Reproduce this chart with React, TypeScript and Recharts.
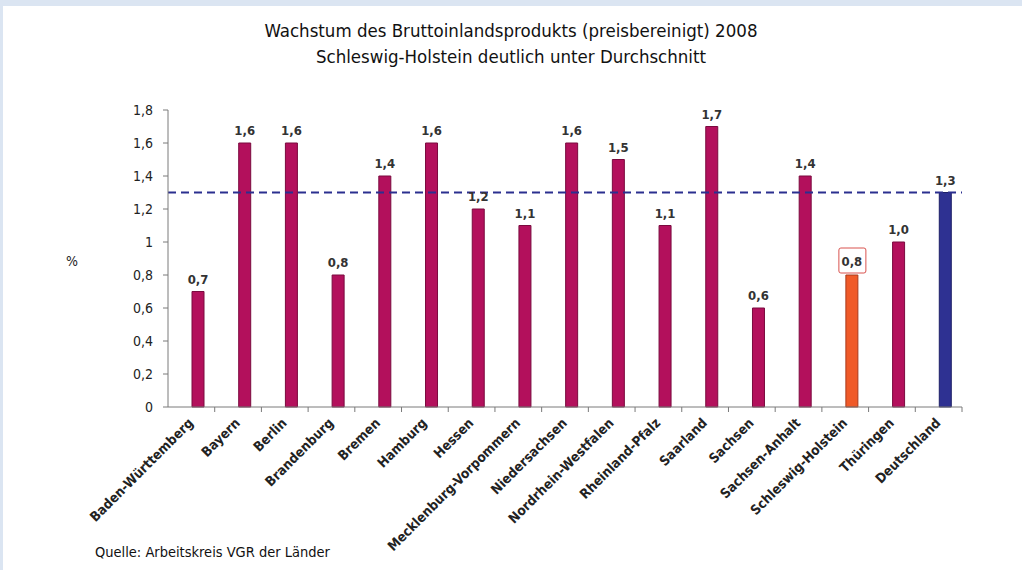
import { BarChart, Bar, XAxis, YAxis, Cell, LabelList, ReferenceLine } from 'recharts';

// ─── Daten ────────────────────────────────────────────────────

const laender = [
    'Baden-Württemberg', 'Bayern', 'Berlin', 'Brandenburg', 'Bremen', 'Hamburg', 'Hessen',
    'Mecklenburg-Vorpommern', 'Niedersachsen', 'Nordrhein-Westfalen', 'Rheinland-Pfalz',
    'Saarland', 'Sachsen', 'Sachsen-Anhalt', 'Schleswig-Holstein', 'Thüringen', 'Deutschland',
];
const wachstum = [0.7, 1.6, 1.6, 0.8, 1.4, 1.6, 1.2, 1.1, 1.6, 1.5, 1.1, 1.7, 0.6, 1.4, 0.8, 1.0, 1.3];
const durchschnitt = 1.3;
const yTicks = [0, 0.2, 0.4, 0.6, 0.8, 1, 1.2, 1.4, 1.6, 1.8];

const HERVORGEHOBEN = 'Schleswig-Holstein';
const GESAMT = 'Deutschland';

const data = laender.map((land, i) => ({ land, wert: wachstum[i] }));

// ─── Stil ─────────────────────────────────────────────────────

const FONT = "'Liberation Sans Narrow', 'DejaVu Sans Condensed', 'Liberation Sans', sans-serif";
const AXIS_COLOR = '#7a7a7a';
const farbe = (land: string) => (land === HERVORGEHOBEN ? '#f05a28' : land === GESAMT ? '#2e3192' : '#b3105c');
const rand = (land: string) => (land === HERVORGEHOBEN ? '#a8381a' : land === GESAMT ? '#1d1f66' : '#7a0a3e');
const komma = (v: number, fix = true) => (fix ? v.toFixed(1) : String(v)).replace('.', ',');

// eslint-disable-next-line @typescript-eslint/no-explicit-any
const LandTick = ({ x, y, payload }: any) => {
    const half = payload?.offset ?? 0;
    return (
        <g>
            <line x1={x + half} x2={x + half} y1={y - 4} y2={y + 1} stroke={AXIS_COLOR} />
            <text
                x={x}
                y={y + 10}
                transform={`rotate(-45, ${x}, ${y + 10})`}
                textAnchor="end"
                dominantBaseline="middle"
                style={{ fontFamily: FONT, fontSize: 13.5, fontWeight: 700, fill: '#222' }}
            >
                {payload.value}
            </text>
        </g>
    );
};

// eslint-disable-next-line @typescript-eslint/no-explicit-any
const WertLabel = ({ x, y, width, value, index }: any) => {
    const cx = x + width / 2;
    const boxed = laender[index] === HERVORGEHOBEN;
    return (
        <g>
            {boxed && <rect x={cx - 13} y={y - 27} width={27} height={25} fill="#fff" stroke="#d9534f" strokeWidth={1} rx={2} />}
            <text
                x={cx}
                y={boxed ? y - 9 : y - 8}
                textAnchor="middle"
                style={{ fontFamily: FONT, fontSize: 13, fontWeight: 700, fill: '#333' }}
            >
                {komma(value)}
            </text>
        </g>
    );
};

export default function App() {
    return (
        <div style={{ position: 'relative', width: 1022, height: 570, background: '#dbe5f2', fontFamily: FONT }}>
            <style>{'body{margin:0}'}</style>
            <div style={{ position: 'absolute', left: 3, top: 6, width: 1019, height: 564, background: '#fff' }} />
            <div style={{ position: 'absolute', left: 0, top: 18, width: 1022, textAlign: 'center', fontSize: 18.5, lineHeight: '26px', color: '#111' }}>
                <div>Wachstum des Bruttoinlandsprodukts (preisbereinigt) 2008</div>
                <div>Schleswig-Holstein deutlich unter Durchschnitt</div>
            </div>
            <div style={{ position: 'absolute', left: 66, top: 253, fontSize: 14, color: '#222' }}>%</div>
            <div style={{ position: 'absolute', left: 95, top: 544, fontSize: 14.5, color: '#111' }}>Quelle: Arbeitskreis VGR der Länder</div>
            <div style={{ position: 'absolute', left: 0, top: 0 }}>
                <BarChart
                    width={1022}
                    height={570}
                    data={data}
                    margin={{ top: 110, right: 60, left: 128, bottom: 133 }}
                    barSize={12}
                    barGap={2}
                >
                    <XAxis
                        dataKey="land"
                        interval={0}
                        tickLine={false}
                        tickSize={0}
                        tickMargin={4}
                        height={30}
                        axisLine={{ stroke: AXIS_COLOR }}
                        tick={<LandTick />}
                    />
                    <YAxis
                        width={40}
                        domain={[0, 1.8]}
                        ticks={yTicks}
                        interval={0}
                        tickSize={5}
                        tickMargin={10}
                        tickFormatter={(v: number) => komma(v, false)}
                        axisLine={{ stroke: AXIS_COLOR }}
                        tickLine={{ stroke: AXIS_COLOR }}
                        tick={{ fill: '#222', fontSize: 14, fontFamily: FONT }}
                    />
                    {/* leere Platzhalter-Reihe wie im Original: Säulen sitzen rechts der Kategoriemitte */}
                    <Bar dataKey="leer" isAnimationActive={false} />
                    <Bar dataKey="wert" isAnimationActive={false} strokeWidth={1}>
                        {data.map((d) => (
                            <Cell key={d.land} fill={farbe(d.land)} stroke={rand(d.land)} />
                        ))}
                        <LabelList dataKey="wert" content={<WertLabel />} />
                    </Bar>
                    <ReferenceLine y={durchschnitt} stroke="#2b2f8f" strokeWidth={2} strokeDasharray="8 5" />
                </BarChart>
            </div>
        </div>
    );
}
